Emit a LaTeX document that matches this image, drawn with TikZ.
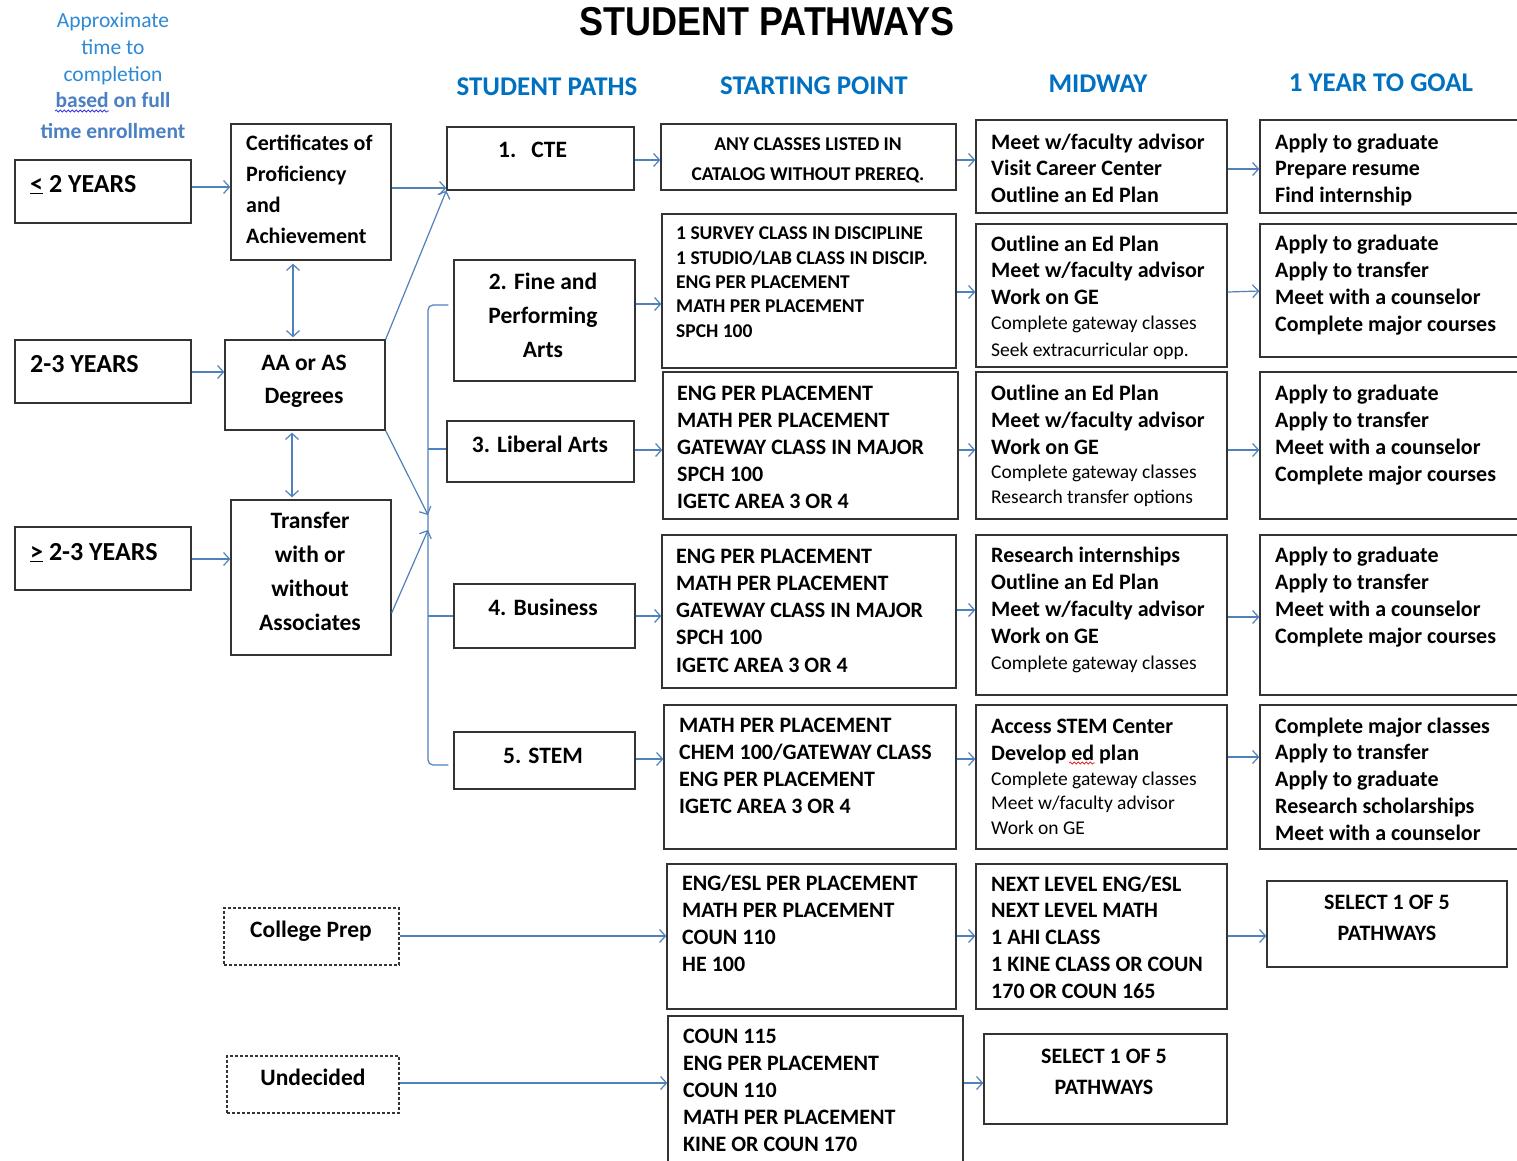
\documentclass[tikz,border=0pt]{standalone}
\usepackage{fontspec}
\setmainfont{Carlito}
\newfontfamily\titlefont{Liberation Sans}
\usetikzlibrary{arrows.meta,decorations.pathmorphing}
\definecolor{lineblue}{HTML}{4F81BD}
\definecolor{headblue}{HTML}{0070C0}
\definecolor{tlblue}{HTML}{2E8AD6}
\definecolor{tlblue2}{HTML}{4A80C4}
\definecolor{boxgray}{HTML}{333333}
\definecolor{spellblue}{HTML}{3A3AE0}
\definecolor{spellred}{HTML}{E03030}
\newcommand\fsz[2]{\fontsize{#1}{#2}\selectfont}
\newcommand\bx[6][]{\node[box,#1,minimum width={(#4-#2)*1pt},minimum height={(#5-#3)*1pt}] (#6) at ({(#2+#4)/2},{(#3+#5)/2}) {};}
\tikzset{
 box/.style={draw=boxgray, line width=1.3pt, inner sep=0pt},
 dbox/.style={dash pattern=on 3pt off 2pt},
 txt/.style={anchor=base west, align=left, inner sep=0pt, text=black},
 ctxt/.style={anchor=base, align=center, inner sep=0pt, text=black},
 conn/.style={draw=lineblue, line width=1.2pt},
 arr/.style={conn, -{Straight Barb[length=6pt,width=13pt]}},
 dbl/.style={conn, {Straight Barb[length=6pt,width=13pt]}-{Straight Barb[length=6pt,width=13pt]}},
 head/.style={text=headblue, font=\fsz{27}{32}\bfseries, inner sep=0pt},
 big/.style={font=\fsz{26}{30}\bfseries},
 pth/.style={font=\fsz{23.5}{34}\bfseries},
 bd/.style={font=\fsz{22}{26.7}\bfseries},
 bdw/.style={font=\fsz{22}{27}\bfseries},
 sm/.style={font=\fsz{19.5}{24.3}\bfseries},
 spell/.style={decorate, decoration={snake, amplitude=1pt, segment length=4pt}, line width=0.8pt},
}
\begin{document}
\begin{tikzpicture}[x=1pt,y=-1pt]
\clip (0,0) rectangle (1517,1160);
\fill[white] (0,0) rectangle (1517,1160);

% title and headers
\node[inner sep=0pt, font=\titlefont\bfseries\fsz{36}{40}] (title) at (767,22) {\scalebox{1}[1.12]{STUDENT PATHWAYS}};
\node[head] (h1) at (547,87) {STUDENT PATHS};
\node[head] (h2) at (814,86) {STARTING POINT};
\node[head] (h3) at (1098,84) {MIDWAY};
\node[head] (h4) at (1381,83) {1 YEAR TO GOAL};

% top-left note (base anchor = last line)
\node[ctxt, text=tlblue, font=\fsz{21.5}{27}] (tl1) at (113,81) {Approximate\\time to\\completion};
\node[ctxt, text=tlblue2, font=\fsz{21.5}{31}\bfseries] (tl2) at (113,138) {based on full\\time enrollment};
\draw[spellblue, spell] (55,111) -- (109,111);

% year boxes
\bx{15}{160}{191}{223}{y1}
\bx{15}{340}{191}{403}{y2}
\bx{15}{527}{191}{590}{y3}
\node[txt, big] (y1t) at (30,192) {\underline{<} 2 YEARS};
\node[txt, big] (y2t) at (30,372) {2-3 YEARS};
\node[txt, big] (y3t) at (30,560) {\underline{>} 2-3 YEARS};

% degree boxes
\bx{231}{124}{391}{260}{cert}
\bx{225}{340}{385}{430}{aa}
\bx{231}{500}{391}{655}{tr}
\bx[dbox]{224}{908}{399}{965}{cp}
\bx[dbox]{227}{1056}{399}{1113}{und}
\node[txt, font=\fsz{22}{30.7}\bfseries] (certt) at (246,243) {Certificates of\\Proficiency\\and\\Achievement};
\node[ctxt, font=\fsz{23.5}{33}\bfseries] (aat) at (304,403) {AA or AS\\Degrees};
\node[ctxt, font=\fsz{23.5}{33.7}\bfseries] (trt) at (310,630) {Transfer\\with or\\without\\Associates};
\node[ctxt, pth] (cpt) at (311,937) {College Prep};
\node[ctxt, pth] (undt) at (313,1085) {Undecided};

% student paths
\bx{447}{127}{634}{190}{cte}
\bx{454}{260}{635}{381}{fine}
\bx{447}{421}{634}{482}{lib}
\bx{454}{584}{635}{648}{bus}
\bx{454}{732}{635}{789}{stem}
\node[txt, pth] (ctet) at (498,157) {1.\hspace{15pt}CTE};
\node[ctxt, pth] (finet) at (543,357) {2. Fine and\\Performing\\Arts};
\node[ctxt, pth] (libt) at (540,452) {3. Liberal Arts};
\node[ctxt, pth] (bust) at (543,615) {4. Business};
\node[ctxt, pth] (stemt) at (543,763) {5. STEM};

% starting point
\bx{661}{124}{956}{190}{sp1}
\bx{662}{214}{956}{368}{sp2}
\bx{663}{372}{958}{519}{sp3}
\bx{662}{535}{956}{688}{sp4}
\bx{664}{705}{956}{849}{sp5}
\bx{667}{864}{956}{1009}{sp6}
\bx{668}{1016}{963}{1180}{sp7}
\node[ctxt, font=\fsz{19.5}{30}\bfseries] (sp1t) at (808,180) {ANY CLASSES LISTED IN\\CATALOG WITHOUT PREREQ.};
\node[txt, sm] (sp2t) at (676,337) {1 SURVEY CLASS IN DISCIPLINE\\1 STUDIO/LAB CLASS IN DISCIP.\\ENG PER PLACEMENT\\MATH PER PLACEMENT\\SPCH 100};
\node[txt, bdw] (sp3t) at (677,508) {ENG PER PLACEMENT\\MATH PER PLACEMENT\\GATEWAY CLASS IN MAJOR\\SPCH 100\\IGETC AREA 3 OR 4};
\node[txt, font=\fsz{22}{27.25}\bfseries] (sp4t) at (676,672) {ENG PER PLACEMENT\\MATH PER PLACEMENT\\GATEWAY CLASS IN MAJOR\\SPCH 100\\IGETC AREA 3 OR 4};
\node[txt, bd] (sp5t) at (679,813) {MATH PER PLACEMENT\\CHEM 100/GATEWAY CLASS\\ENG PER PLACEMENT\\IGETC AREA 3 OR 4};
\node[txt, bd] (sp6t) at (682,971) {ENG/ESL PER PLACEMENT\\MATH PER PLACEMENT\\COUN 110\\HE 100};
\node[txt, bdw] (sp7t) at (683,1151) {COUN 115\\ENG PER PLACEMENT\\COUN 110\\MATH PER PLACEMENT\\KINE OR COUN 170};

% midway
\bx{976}{120}{1227}{213}{m1}
\bx{976}{224}{1227}{367}{m2}
\bx{976}{372}{1227}{519}{m3}
\bx{976}{535}{1227}{695}{m4}
\bx{976}{705}{1227}{849}{m5}
\bx{976}{864}{1227}{1009}{m6}
\bx{984}{1034}{1227}{1124}{m7}
\node[txt, font=\fsz{22}{26.5}\bfseries] (m1t) at (991,202) {Meet w/faculty advisor\\Visit Career Center\\Outline an Ed Plan};
\node[txt, font=\fsz{22}{26.5}\bfseries] (m2t) at (991,304) {Outline an Ed Plan\\Meet w/faculty advisor\\Work on GE};
\node[txt, font=\fsz{19.5}{27}] (m2r) at (991,356) {Complete gateway classes\\Seek extracurricular opp.};
\node[txt, bdw] (m3t) at (991,454) {Outline an Ed Plan\\Meet w/faculty advisor\\Work on GE};
\node[txt, font=\fsz{19.5}{25}] (m3r) at (991,503) {Complete gateway classes\\Research transfer options};
\node[txt, bd] (m4t) at (991,643) {Research internships\\Outline an Ed Plan\\Meet w/faculty advisor\\Work on GE};
\node[txt, font=\fsz{19.5}{25}] (m4r) at (991,669) {Complete gateway classes};
\node[txt, bdw] (m5t) at (991,760) {Access STEM Center\\Develop ed plan};
\node[txt, font=\fsz{19.5}{24.5}] (m5r) at (991,834) {Complete gateway classes\\Meet w/faculty advisor\\Work on GE};
\draw[spellred, spell] (1069,763) -- (1095,763);
\node[txt, font=\fsz{22}{26.75}\bfseries] (m6t) at (991,998) {NEXT LEVEL ENG/ESL\\NEXT LEVEL MATH\\1 AHI CLASS\\1 KINE CLASS OR COUN\\170 OR COUN 165};
\node[ctxt, font=\fsz{22}{31}\bfseries] (m7t) at (1104,1094) {SELECT 1 OF 5\\PATHWAYS};

% goal
\bx{1260}{120}{1530}{213}{g1}
\bx{1260}{224}{1530}{357}{g2}
\bx{1260}{372}{1530}{519}{g3}
\bx{1260}{535}{1530}{695}{g4}
\bx{1260}{705}{1530}{849}{g5}
\bx{1267}{881}{1507}{967}{g6}
\node[txt, font=\fsz{22}{26.5}\bfseries] (g1t) at (1275,202) {Apply to graduate\\Prepare resume\\Find internship};
\node[txt, bd] (g2t) at (1275,331) {Apply to graduate\\Apply to transfer\\Meet with a counselor\\Complete major courses};
\node[txt, bdw] (g3t) at (1275,481) {Apply to graduate\\Apply to transfer\\Meet with a counselor\\Complete major courses};
\node[txt, bd] (g4t) at (1275,643) {Apply to graduate\\Apply to transfer\\Meet with a counselor\\Complete major courses};
\node[txt, font=\fsz{22}{26.75}\bfseries] (g5t) at (1275,840) {Complete major classes\\Apply to transfer\\Apply to graduate\\Research scholarships\\Meet with a counselor};
\node[ctxt, font=\fsz{22}{31}\bfseries] (g6t) at (1387,940) {SELECT 1 OF 5\\PATHWAYS};

% connectors: left side
\coordinate (j1) at (428,515);
\coordinate (j2) at (428,530);
\coordinate (bt) at (428,305);
\coordinate (bb) at (428,765);
\coordinate (bl) at (428,449);
\coordinate (bbus) at (428,616);
\draw[arr] (y1.east|-0,187) -- (cert.west|-0,187);
\draw[arr] (y2.east|-0,372) -- (aa.west|-0,372);
\draw[arr] (y3.east|-0,559) -- (tr.west|-0,559);
\draw[arr] (cert.east|-0,188) -- (cte.west|-0,188);
\draw[arr] (aa.north east) -- (cte.south west);
\draw[dbl] ([yshift=-3pt]cert.south -| 293,0) -- ([yshift=2pt]aa.north -| 293,0);
\draw[dbl] ([yshift=-2pt]aa.south -| 292,0) -- ([yshift=2pt]tr.north -| 292,0);
\draw[arr] (aa.south east) -- (j1);
\draw[arr] (tr.east|-0,613) -- (j2);
\draw[conn, rounded corners=5pt] ([xshift=-5pt]fine.west|-bt) -- (bt) -- (bb) -- ([xshift=-5pt]stem.west|-bb);
\draw[conn] (bl) -- (lib.west|-bl);
\draw[conn] (bbus) -- (bus.west|-bbus);

% paths to starting point
\draw[arr] (cte.east|-0,160) -- (sp1.west|-0,160);
\draw[arr] (fine.east|-0,304) -- (sp2.west|-0,304);
\draw[arr] (lib.east|-0,450) -- (sp3.west|-0,450);
\draw[arr] (bus.east|-0,616) -- (sp4.west|-0,616);
\draw[arr] (stem.east|-0,759) -- (sp5.west|-0,759);
\draw[arr] (cp.east|-0,936) -- (sp6.west|-0,936);
\draw[arr] (und.east|-0,1083) -- (sp7.west|-0,1083);

% starting point to midway
\draw[arr] (sp1.east|-0,160) -- (m1.west|-0,160);
\draw[arr] (sp2.east|-0,292) -- (m2.west|-0,292);
\draw[arr] (sp3.east|-0,450) -- (m3.west|-0,450);
\draw[arr] (sp4.east|-0,610) -- (m4.west|-0,610);
\draw[arr] (sp5.east|-0,759) -- (m5.west|-0,759);
\draw[arr] (sp6.east|-0,936) -- (m6.west|-0,936);
\draw[arr] (sp7.east|-0,1083) -- (m7.west|-0,1083);

% midway to goal
\draw[arr] (m1.east|-0,169) -- (g1.west|-0,169);
\draw[arr] (m2.east|-0,292) -- (g2.west|-0,291);
\draw[arr] (m3.east|-0,450) -- (g3.west|-0,450);
\draw[arr] (m4.east|-0,617) -- (g4.west|-0,617);
\draw[arr] (m5.east|-0,757) -- (g5.west|-0,757);
\draw[arr] (m6.east|-0,936) -- (g6.west|-0,936);
\end{tikzpicture}
\end{document}
